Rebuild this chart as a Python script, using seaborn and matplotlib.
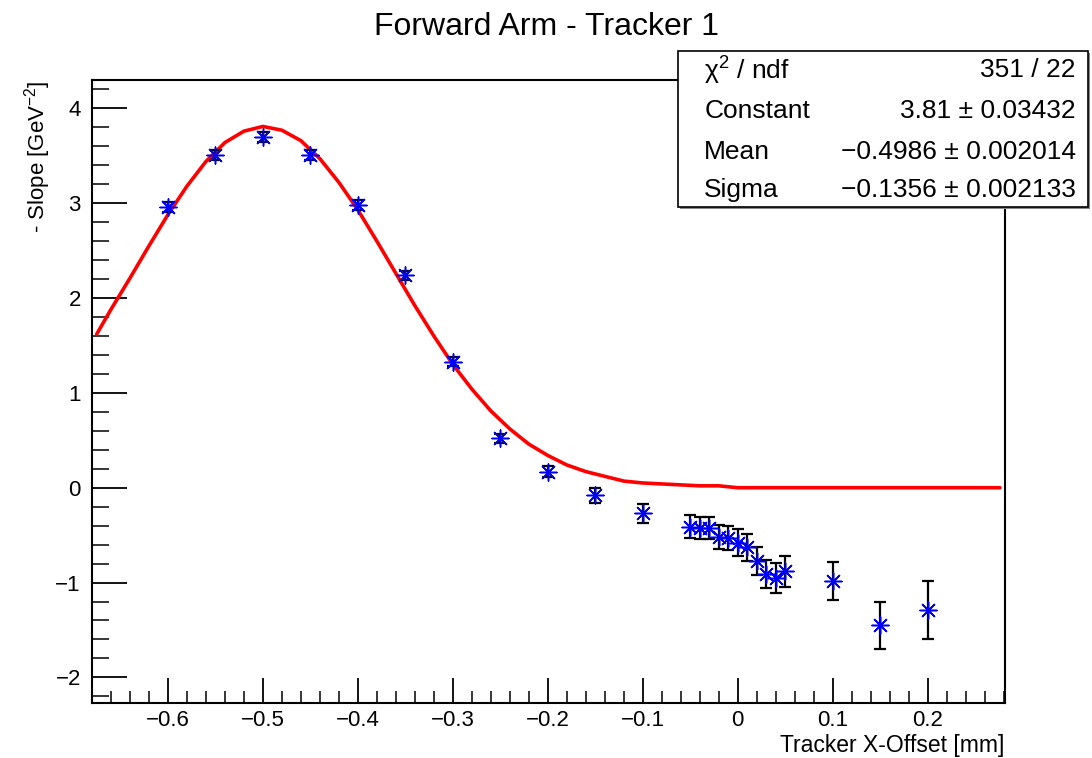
import numpy as np
import matplotlib
matplotlib.use("Agg")
import matplotlib.pyplot as plt
from matplotlib.patches import Rectangle
from matplotlib.ticker import MultipleLocator
import seaborn as sns

# measured points (x offset in mm, -slope, error)
x_offset = [-0.60, -0.55, -0.50, -0.45, -0.40, -0.35, -0.30, -0.25, -0.20, -0.15, -0.10,
            -0.05, -0.04, -0.03, -0.02, -0.01, 0.00, 0.01, 0.02, 0.03, 0.04, 0.05,
            0.10, 0.15, 0.20]
neg_slope = [2.96, 3.51, 3.70, 3.51, 2.98, 2.24, 1.33, 0.52, 0.17, -0.08, -0.27,
             -0.41, -0.425, -0.425, -0.52, -0.53, -0.58, -0.63, -0.77, -0.91, -0.95, -0.88,
             -0.98, -1.45, -1.29]
slope_err = [0.05, 0.05, 0.05, 0.05, 0.05, 0.05, 0.05, 0.05, 0.06, 0.08, 0.10,
             0.12, 0.12, 0.12, 0.13, 0.13, 0.14, 0.14, 0.15, 0.15, 0.16, 0.165,
             0.20, 0.25, 0.31]

# red fit curve
fit_x = [-0.675, -0.66, -0.64, -0.62, -0.60, -0.58, -0.56, -0.54, -0.52, -0.50,
         -0.48, -0.46, -0.44, -0.42, -0.40, -0.38, -0.36, -0.34, -0.32, -0.30,
         -0.28, -0.26, -0.24, -0.22, -0.20, -0.18, -0.16, -0.14, -0.12, -0.10,
         -0.08, -0.06, -0.04, -0.02, 0.00, 0.05, 0.10, 0.15, 0.20, 0.276]
fit_y = [1.62, 1.88, 2.21, 2.55, 2.88, 3.18, 3.44, 3.64, 3.76, 3.81,
         3.77, 3.66, 3.47, 3.22, 2.93, 2.60, 2.26, 1.92, 1.60, 1.30,
         1.04, 0.81, 0.62, 0.46, 0.34, 0.24, 0.17, 0.12, 0.07, 0.05,
         0.04, 0.03, 0.02, 0.02, 0.0, 0.0, 0.0, 0.0, 0.0, 0.0]

stat_names = ["χ$^{2}$ / ndf", "Constant", "Mean", "Sigma"]
stat_values = ["351 / 22", "3.81 ± 0.03432", "−0.4986 ± 0.002014", "−0.1356 ± 0.002133"]

sns.set_style("ticks")
plt.rcParams['font.family'] = ['Liberation Sans', 'DejaVu Sans']
plt.rcParams['mathtext.fontset'] = 'custom'
plt.rcParams['mathtext.rm'] = 'Liberation Sans'
plt.rcParams['mathtext.it'] = 'Liberation Sans:italic'
plt.rcParams['text.color'] = 'black'
plt.rcParams['axes.labelcolor'] = 'black'

fig = plt.figure(figsize=(10.92, 7.58), dpi=100)
ax = fig.add_axes([0.0842, 0.0726, 0.8358, 0.8219])

sns.lineplot(x=fit_x, y=fit_y, ax=ax, color="red", linewidth=2.6, zorder=2)
ax.errorbar(x_offset, neg_slope, yerr=slope_err, fmt="none", ecolor="black",
            elinewidth=1.6, capsize=4, capthick=1.6, zorder=3)
sns.scatterplot(x=x_offset, y=neg_slope, ax=ax, marker=(8, 2, 0), s=150,
                color="blue", edgecolor="blue", linewidth=1.1, zorder=4)

ax.set_xlim(-0.68, 0.281)
ax.set_ylim(-2.27, 4.3)
ax.xaxis.set_major_locator(MultipleLocator(0.1))
ax.xaxis.set_minor_locator(MultipleLocator(0.02))
ax.yaxis.set_major_locator(MultipleLocator(1))
ax.yaxis.set_minor_locator(MultipleLocator(0.2))
ax.set_xticks([-0.6, -0.5, -0.4, -0.3, -0.2, -0.1, 0, 0.1, 0.2])
ax.set_xticklabels(["−0.6", "−0.5", "−0.4", "−0.3", "−0.2", "−0.1", "0", "0.1", "0.2"])
ax.set_yticks([-2, -1, 0, 1, 2, 3, 4])
ax.set_yticklabels(["−2", "−1", "0", "1", "2", "3", "4"])
ax.tick_params(axis="x", which="major", direction="in", length=18, width=1.3,
               labelsize=16, pad=5, colors="black")
ax.tick_params(axis="x", which="minor", direction="in", length=9, width=1.3)
ax.tick_params(axis="y", which="major", direction="in", length=25, width=1.3,
               labelsize=16, pad=8, colors="black")
ax.tick_params(axis="y", which="minor", direction="in", length=12, width=1.3)
for sp in ax.spines.values():
    sp.set_visible(True)
    sp.set_color("black")
    sp.set_linewidth(1.5)

ax.set_xlabel("Tracker X-Offset [mm]", loc="right", fontsize=16.5, labelpad=2)
ax.set_ylabel("- Slope [GeV$^{-2}$]", loc="top", fontsize=16, labelpad=2)
fig.text(0.5, 0.964, "Forward Arm - Tracker 1", ha="center", va="center", fontsize=23)

# stats box
fig.add_artist(Rectangle((0.623, 0.724), 0.375, 0.206, transform=fig.transFigure,
                         facecolor="#888888", edgecolor="none", zorder=9))
fig.add_artist(Rectangle((0.621, 0.727), 0.375, 0.206, transform=fig.transFigure,
                         facecolor="white", edgecolor="black", linewidth=1.2, zorder=10))
row_y = [0.907, 0.853, 0.800, 0.749]
for name, val, yy in zip(stat_names, stat_values, row_y):
    fig.text(0.645, yy, name, ha="left", va="center", fontsize=19, zorder=11)
    fig.text(0.985, yy, val, ha="right", va="center", fontsize=19, zorder=11)

fig.savefig("out.png", dpi=100)
